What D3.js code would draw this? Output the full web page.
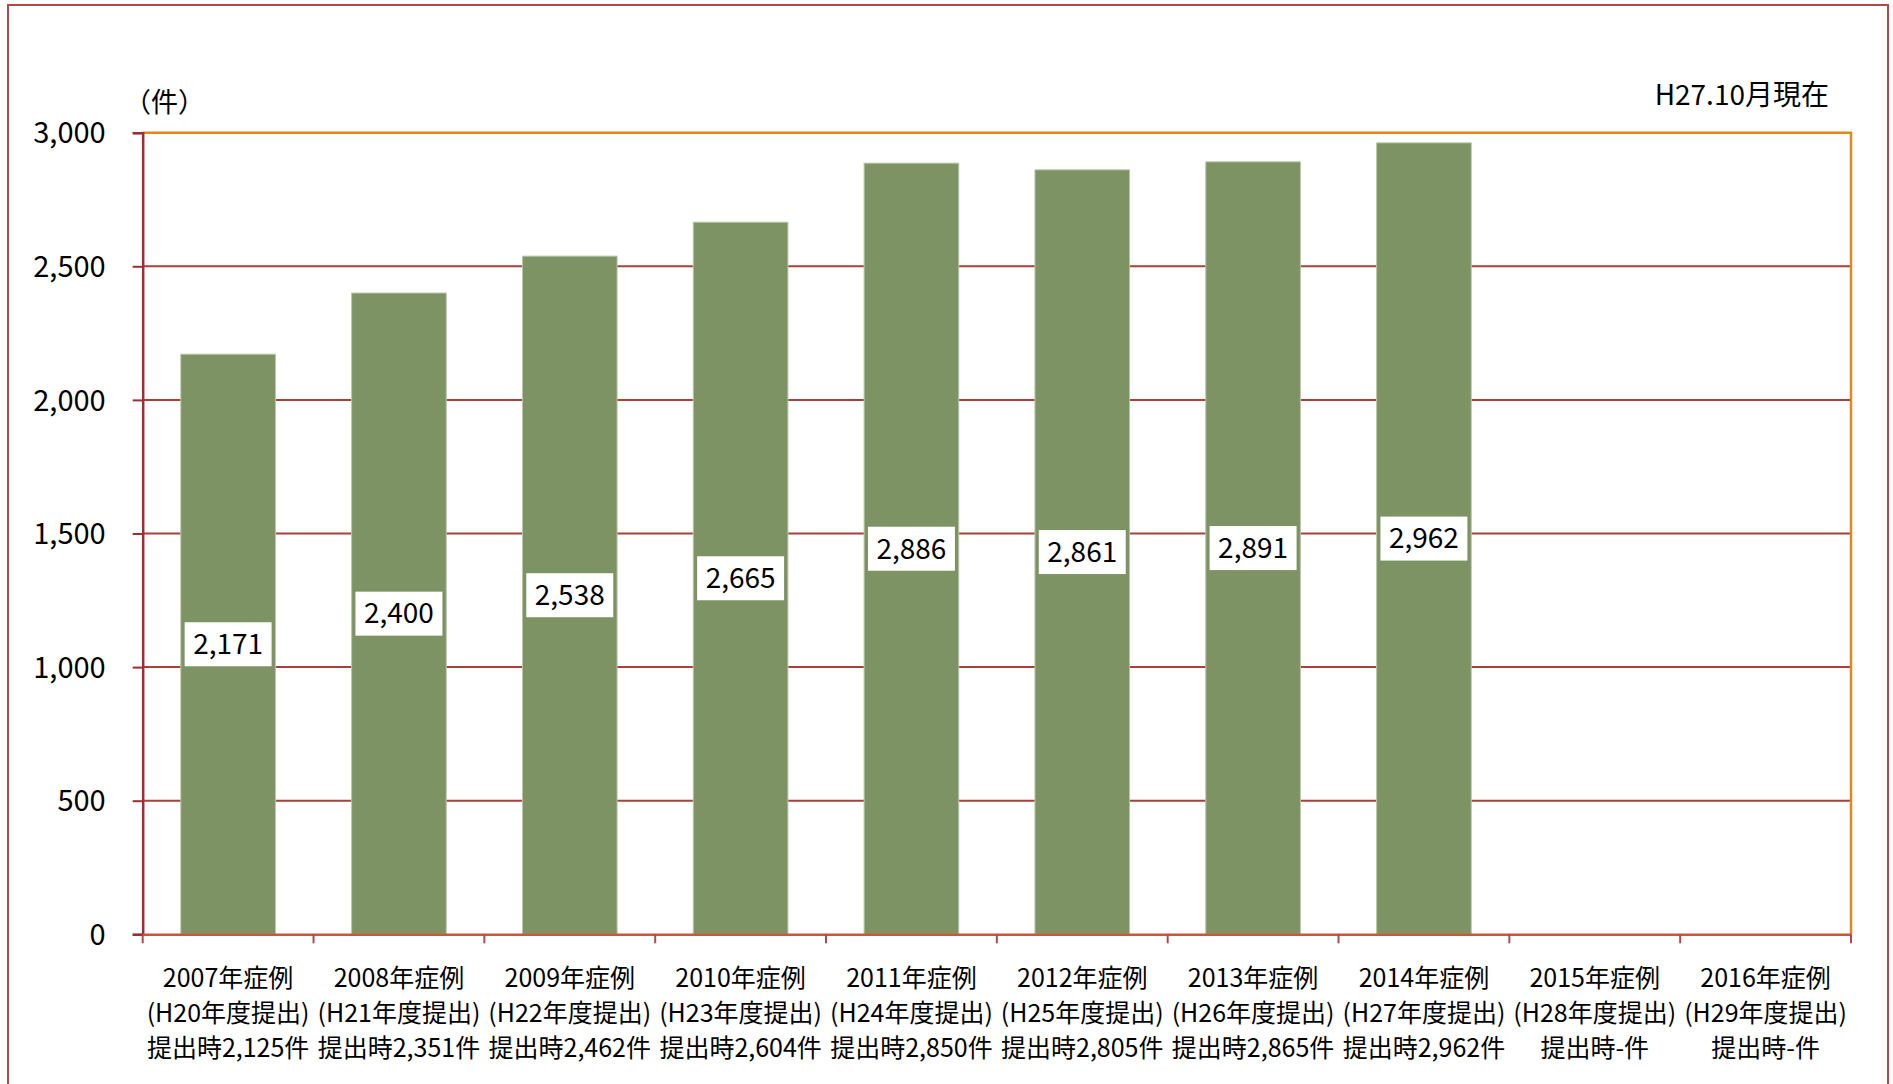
<!DOCTYPE html>
<html>
<head>
<meta charset="utf-8">
<script src="https://cdn.jsdelivr.net/npm/d3@7"></script>
<style>
  html, body { margin: 0; padding: 0; background: #fff; }
  svg { display: block; }
  text { font-family: "Noto Sans CJK JP", "Noto Sans", sans-serif; fill: #000; }
</style>
</head>
<body>
<svg id="chart" width="1893" height="1084"></svg>
<script>
// ---- data ----
const categories = ["2007", "2008", "2009", "2010", "2011", "2012", "2013", "2014", "2015", "2016"];
const line1 = ["2007年症例", "2008年症例", "2009年症例", "2010年症例", "2011年症例", "2012年症例", "2013年症例", "2014年症例", "2015年症例", "2016年症例"];
const line2 = ["(H20年度提出)", "(H21年度提出)", "(H22年度提出)", "(H23年度提出)", "(H24年度提出)", "(H25年度提出)", "(H26年度提出)", "(H27年度提出)", "(H28年度提出)", "(H29年度提出)"];
const line3 = ["提出時2,125件", "提出時2,351件", "提出時2,462件", "提出時2,604件", "提出時2,850件", "提出時2,805件", "提出時2,865件", "提出時2,962件", "提出時-件", "提出時-件"];
const values = [2171, 2400, 2538, 2665, 2886, 2861, 2891, 2962, null, null];
const yTicks = [0, 500, 1000, 1500, 2000, 2500, 3000];
const yUnit = "（件）";
const note = "H27.10月現在";

// ---- layout ----
const svg = d3.select("#chart");
const L = 142.7, R = 1851, T = 132.7, B = 934.3;

const x = d3.scaleBand().domain(categories).range([L, R]).paddingInner(0.446).paddingOuter(0.223);
const y = d3.scaleLinear().domain([0, 3000]).range([B, T]);

// outer frame
svg.append("rect").attr("x", 8).attr("y", 5).attr("width", 1880).attr("height", 1100)
  .attr("fill", "none").attr("stroke", "#b04a4a").attr("stroke-width", 2);

// gridlines
svg.append("g").selectAll("line").data(yTicks.filter(d => d > 0 && d < 3000)).join("line")
  .attr("x1", L).attr("x2", R).attr("y1", d => y(d)).attr("y2", d => y(d))
  .attr("stroke", "#a8403e").attr("stroke-width", 2);

// top and right plot border (orange)
svg.append("path")
  .attr("d", `M${L},${y(3000)}H${R}V${B}`)
  .attr("fill", "none").attr("stroke", "#e2871c").attr("stroke-width", 2.5);

// bars
const data = categories.map((c, i) => ({ c, v: values[i] })).filter(d => d.v != null);
svg.append("g").selectAll("rect").data(data).join("rect")
  .attr("x", d => x(d.c)).attr("width", x.bandwidth())
  .attr("y", d => y(d.v)).attr("height", d => B - y(d.v))
  .attr("fill", "#7e9363").attr("stroke", "#b9c6a8").attr("stroke-width", 1);

// y axis
const yAxis = svg.append("g").attr("transform", `translate(${L},0)`)
  .call(d3.axisLeft(y).tickValues(yTicks).tickFormat(d3.format(",")).tickSize(10).tickPadding(27));
yAxis.select(".domain").attr("stroke", "#9b3030").attr("stroke-width", 2.5);
yAxis.selectAll(".tick line").attr("stroke", "#9b3030").attr("stroke-width", 2);
yAxis.selectAll(".tick text").style("font-size", "29px").attr("fill", "#000")
  .style("font-family", '"Noto Sans CJK JP", "Noto Sans", sans-serif').attr("dy", "0.35em");

// x axis
const xAxis = svg.append("g").attr("transform", `translate(0,${B})`)
  .call(d3.axisBottom(x).tickSize(0).tickFormat(""));
xAxis.select(".domain").attr("stroke", "#c8583a").attr("stroke-width", 2.5);
xAxis.selectAll(".tick").remove();
// x ticks at band boundaries
const bounds = categories.map(c => x(c) - x.step() * x.paddingInner() / 2);
bounds.push(R);
svg.append("g").selectAll("line").data(bounds).join("line")
  .attr("x1", d => d).attr("x2", d => d).attr("y1", B).attr("y2", B + 9)
  .attr("stroke", "#b04a4a").attr("stroke-width", 2);

// x labels
const xl = svg.append("g");
categories.forEach((c, i) => {
  const cx = x(c) + x.bandwidth() / 2;
  [line1[i], line2[i], line3[i]].forEach((t, j) => {
    xl.append("text").attr("x", cx).attr("y", 978 + j * 35).attr("dy", "0.35em")
      .attr("text-anchor", "middle").style("font-size", "25px").text(t);
  });
});

// bar value labels
const lab = svg.append("g");
data.forEach(d => {
  const cx = x(d.c) + x.bandwidth() / 2;
  const cy = y(d.v / 2);
  const g = lab.append("g");
  const r = g.append("rect").attr("fill", "#fff");
  const t = g.append("text").attr("x", cx).attr("y", cy).attr("dy", "0.35em")
    .attr("text-anchor", "middle").style("font-size", "28px").text(d3.format(",")(d.v));
  const w = t.node().getComputedTextLength() + 17;
  r.attr("x", cx - w / 2).attr("y", cy - 22).attr("width", w).attr("height", 44);
});

// unit label and note
svg.append("text").attr("x", 124).attr("y", 103).attr("dy", "0.35em")
  .style("font-size", "27px").text(yUnit);
svg.append("text").attr("x", 1829).attr("y", 95).attr("dy", "0.35em")
  .attr("text-anchor", "end").style("font-size", "28px").text(note);
</script>
</body>
</html>
